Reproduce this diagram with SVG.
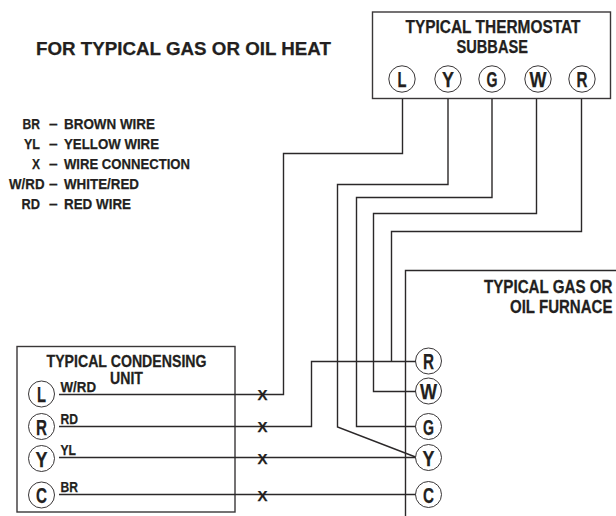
<svg xmlns="http://www.w3.org/2000/svg" width="616" height="516" viewBox="0 0 616 516">
<style>
text{font-family:"Liberation Sans",Arial,sans-serif;font-weight:bold;fill:#231f20;stroke:#231f20;stroke-width:.25}
.t{font-size:18px}
.u{font-size:16px}
.l{font-size:15.500px}
.c{font-size:22px;text-anchor:middle}
.w{fill:none;stroke:#2b2829;stroke-width:1.400}
.b{fill:#fff;stroke:#3a3738;stroke-width:1.400}
.p{fill:#fff;stroke:#231f20;stroke-width:.9}
</style>
<g id="title"><text x="36" y="55" font-size="18.500" textLength="295" lengthAdjust="spacingAndGlyphs">FOR TYPICAL GAS OR OIL HEAT</text></g>
<g id="legend">
<text class="l" x="22.500" y="129" textLength="17.500" lengthAdjust="spacingAndGlyphs">BR</text><text class="l" x="49" y="129">–</text><text class="l" x="64" y="129" textLength="91" lengthAdjust="spacingAndGlyphs">BROWN WIRE</text>
<text class="l" x="24" y="149" textLength="16" lengthAdjust="spacingAndGlyphs">YL</text><text class="l" x="49" y="149">–</text><text class="l" x="64" y="149" textLength="95" lengthAdjust="spacingAndGlyphs">YELLOW WIRE</text>
<text class="l" x="32" y="169" textLength="8" lengthAdjust="spacingAndGlyphs">X</text><text class="l" x="49" y="169">–</text><text class="l" x="64" y="169" textLength="126" lengthAdjust="spacingAndGlyphs">WIRE CONNECTION</text>
<text class="l" x="9" y="189" textLength="35.500" lengthAdjust="spacingAndGlyphs">W/RD</text><text class="l" x="49" y="189">–</text><text class="l" x="64" y="189" textLength="75" lengthAdjust="spacingAndGlyphs">WHITE/RED</text>
<text class="l" x="21.500" y="209" textLength="18.500" lengthAdjust="spacingAndGlyphs">RD</text><text class="l" x="49" y="209">–</text><text class="l" x="64" y="209" textLength="67" lengthAdjust="spacingAndGlyphs">RED WIRE</text>
</g>
<g id="thermostat">
<rect class="b" x="372.500" y="12" width="238" height="86.500"/>
<text class="t" x="405.500" y="33" textLength="175" lengthAdjust="spacingAndGlyphs">TYPICAL THERMOSTAT</text>
<text class="t" x="456.500" y="52.500" textLength="71.500" lengthAdjust="spacingAndGlyphs">SUBBASE</text>
</g>
<g id="th-L"><circle class="p" cx="402" cy="79" r="13.200"/><text class="c" x="402" y="87" textLength="9" lengthAdjust="spacingAndGlyphs">L</text></g>
<g id="th-Y"><circle class="p" cx="448" cy="79" r="13.200"/><text class="c" x="448" y="87" textLength="12" lengthAdjust="spacingAndGlyphs">Y</text></g>
<g id="th-G"><circle class="p" cx="492" cy="79" r="13.200"/><text class="c" x="492" y="87" textLength="11" lengthAdjust="spacingAndGlyphs">G</text></g>
<g id="th-W"><circle class="p" cx="538" cy="79" r="13.200"/><text class="c" x="538" y="87" textLength="17" lengthAdjust="spacingAndGlyphs">W</text></g>
<g id="th-R"><circle class="p" cx="582" cy="79" r="13.200"/><text class="c" x="582" y="87" textLength="11" lengthAdjust="spacingAndGlyphs">R</text></g>
<g id="furnace">
<path class="w" d="M616 270.500H405.500V516"/>
<text class="t" transform="translate(484 293) scale(.84 1)" textLength="153" lengthAdjust="spacingAndGlyphs">TYPICAL GAS OR</text>
<text class="t" transform="translate(510 312.500) scale(.84 1)" textLength="122" lengthAdjust="spacingAndGlyphs">OIL FURNACE</text>
</g>
<g id="condensing">
<rect class="b" x="17" y="346.500" width="218" height="165.500"/>
<text class="u" transform="translate(46.500 366.500) scale(.89 1)" textLength="179.800" lengthAdjust="spacingAndGlyphs">TYPICAL CONDENSING</text>
<text class="u" transform="translate(110 384) scale(.89 1)" textLength="37" lengthAdjust="spacingAndGlyphs">UNIT</text>
</g>
<g id="connectors">
<path class="w" d="M402.500 99V153.500H283.500V394.500H59"/>
<path class="w" d="M448 99V184.500H337.500V427L415.500 457"/>
<path class="w" d="M492 99V197.500H356.500V426.500H416"/>
<path class="w" d="M536.500 99V213.500H373.500V391.500H416"/>
<path class="w" d="M581.500 99V231.500H391.500V361.500"/>
<path class="w" d="M416 361.500H311.500V426.500H59"/>
<path class="w" d="M59 457.500H416"/>
<path class="w" d="M59 494.500H416" stroke-width="1.800"/>
</g>
<g id="fu-R"><circle class="p" cx="428.500" cy="361" r="13"/><text class="c" x="428.500" y="369" textLength="11" lengthAdjust="spacingAndGlyphs">R</text></g>
<g id="fu-W"><circle class="p" cx="428.500" cy="391" r="13"/><text class="c" x="428.500" y="399" textLength="17" lengthAdjust="spacingAndGlyphs">W</text></g>
<g id="fu-G"><circle class="p" cx="428.500" cy="426.500" r="13"/><text class="c" x="428.500" y="434.500" textLength="11" lengthAdjust="spacingAndGlyphs">G</text></g>
<g id="fu-Y"><circle class="p" cx="428.500" cy="457.500" r="13"/><text class="c" x="428.500" y="465.500" textLength="12" lengthAdjust="spacingAndGlyphs">Y</text></g>
<g id="fu-C"><circle class="p" cx="428.500" cy="494.500" r="13"/><text class="c" x="428.500" y="502.500" textLength="11" lengthAdjust="spacingAndGlyphs">C</text></g>
<g id="cu-L"><circle class="p" cx="41.500" cy="394" r="13"/><text class="c" x="41.500" y="402" textLength="9" lengthAdjust="spacingAndGlyphs">L</text></g>
<g id="cu-R"><circle class="p" cx="41.500" cy="426.500" r="13"/><text class="c" x="41.500" y="434.500" textLength="11" lengthAdjust="spacingAndGlyphs">R</text></g>
<g id="cu-Y"><circle class="p" cx="41.500" cy="458.500" r="13"/><text class="c" x="41.500" y="466.500" textLength="12" lengthAdjust="spacingAndGlyphs">Y</text></g>
<g id="cu-C"><circle class="p" cx="41.500" cy="495" r="13"/><text class="c" x="41.500" y="503" textLength="11" lengthAdjust="spacingAndGlyphs">C</text></g>
<g id="wire-labels">
<text class="l" x="60.500" y="391.500" textLength="35.500" lengthAdjust="spacingAndGlyphs">W/RD</text>
<text class="l" x="60.500" y="423.500" textLength="17.500" lengthAdjust="spacingAndGlyphs">RD</text>
<text class="l" x="60.500" y="455" textLength="15.500" lengthAdjust="spacingAndGlyphs">YL</text>
<text class="l" x="60.500" y="491.500" textLength="17.500" lengthAdjust="spacingAndGlyphs">BR</text>
</g>
<g id="marks">
<text class="l" x="257.500" y="400" textLength="10" lengthAdjust="spacingAndGlyphs">X</text>
<text class="l" x="257.500" y="432" textLength="10" lengthAdjust="spacingAndGlyphs">X</text>
<text class="l" x="257.500" y="464" textLength="10" lengthAdjust="spacingAndGlyphs">X</text>
<text class="l" x="257.500" y="501" textLength="10" lengthAdjust="spacingAndGlyphs">X</text>
</g>
</svg>
